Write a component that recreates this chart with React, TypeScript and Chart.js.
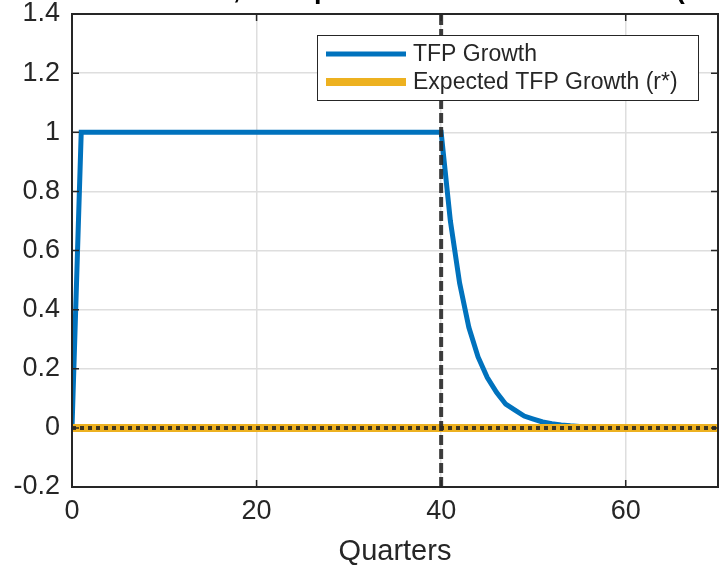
import { useEffect, useRef } from 'react';
import { Chart, registerables } from 'chart.js';

Chart.register(...registerables);

const FONT = '"Liberation Sans", Arial, Helvetica, sans-serif';
const TEXT = '#262626';

const titleText = 'Scenario 1, Unexpected TFP Shock Reversal (r* = 0)';
const xTitle = 'Quarters';
const xTicks = [0, 20, 40, 60];
const xMin = 0;
const xMax = 70;
const yMin = -0.2;
const yMax = 1.4;
const yStep = 0.2;

const quarters = Array.from({ length: 71 }, (_, i) => i);

const tfpGrowth = [
  0,
  1, 1, 1, 1, 1, 1, 1, 1, 1, 1,
  1, 1, 1, 1, 1, 1, 1, 1, 1, 1,
  1, 1, 1, 1, 1, 1, 1, 1, 1, 1,
  1, 1, 1, 1, 1, 1, 1, 1, 1, 1,
  0.7, 0.49, 0.34, 0.24, 0.17, 0.12, 0.08, 0.06, 0.04, 0.03,
  0.02, 0.014, 0.01, 0.007, 0.005, 0.003, 0.002, 0.002, 0.001, 0.001,
  0, 0, 0, 0, 0, 0, 0, 0, 0, 0,
];

const expectedTfp = [
  0,
  0, 0, 0, 0, 0, 0, 0, 0, 0, 0,
  0, 0, 0, 0, 0, 0, 0, 0, 0, 0,
  0, 0, 0, 0, 0, 0, 0, 0, 0, 0,
  0, 0, 0, 0, 0, 0, 0, 0, 0, 0,
  0, 0, 0, 0, 0, 0, 0, 0, 0, 0,
  0, 0, 0, 0, 0, 0, 0, 0, 0, 0,
  0, 0, 0, 0, 0, 0, 0, 0, 0, 0,
];

const shockEndQuarter = [40, 40];
const shockLineY = [yMin, yMax];

const legendLabels = ['TFP Growth', 'Expected TFP Growth (r*)'];
const legendColors = ['#0072BD', '#EDB120'];
const legendWidths = [5, 8];

const framePlugin = {
  id: 'frame',
  afterDatasetsDraw(chart: any) {
    const { ctx, chartArea: a, scales } = chart;
    ctx.save();
    ctx.strokeStyle = TEXT;
    ctx.lineWidth = 2;
    ctx.strokeRect(a.left, a.top, a.right - a.left, a.bottom - a.top);
    ctx.lineWidth = 1.5;
    ctx.beginPath();
    for (const t of xTicks) {
      const x = scales.x.getPixelForValue(t);
      ctx.moveTo(x, a.bottom);
      ctx.lineTo(x, a.bottom - 7);
      ctx.moveTo(x, a.top);
      ctx.lineTo(x, a.top + 7);
    }
    for (const t of scales.y.ticks) {
      const y = scales.y.getPixelForValue(t.value);
      ctx.moveTo(a.left, y);
      ctx.lineTo(a.left + 7, y);
      ctx.moveTo(a.right, y);
      ctx.lineTo(a.right - 7, y);
    }
    ctx.stroke();
    ctx.restore();
  },
};

const legendPlugin = {
  id: 'customLegend',
  afterDraw(chart: any) {
    const { ctx, chartArea: a } = chart;
    const w = 381;
    const h = 65;
    const bx = a.right - 20 - w;
    const by = a.top + 21;
    ctx.save();
    ctx.fillStyle = '#ffffff';
    ctx.fillRect(bx, by, w, h);
    ctx.strokeStyle = TEXT;
    ctx.lineWidth = 1;
    ctx.strokeRect(bx + 0.5, by + 0.5, w, h);
    ctx.font = `23px ${FONT}`;
    ctx.textBaseline = 'middle';
    ctx.textAlign = 'left';
    legendLabels.forEach((label, i) => {
      const y = by + 19 + i * 28;
      ctx.strokeStyle = legendColors[i];
      ctx.lineWidth = legendWidths[i];
      ctx.beginPath();
      ctx.moveTo(bx + 9, y);
      ctx.lineTo(bx + 89, y);
      ctx.stroke();
      ctx.fillStyle = TEXT;
      ctx.fillText(label, bx + 96, y + 1);
    });
    ctx.restore();
  },
};

const titlePlugin = {
  id: 'cutTitle',
  afterDraw(chart: any) {
    const { ctx } = chart;
    ctx.save();
    ctx.font = `bold 27px ${FONT}`;
    ctx.fillStyle = '#000000';
    ctx.textBaseline = 'alphabetic';
    ctx.textAlign = 'left';
    const pre = ctx.measureText('Scenario 1').width;
    ctx.fillText(titleText, 233 - pre, -2);
    ctx.restore();
  },
};

export default function App() {
  const ref = useRef<HTMLCanvasElement | null>(null);

  useEffect(() => {
    if (!ref.current) return;
    const chart = new Chart(ref.current, {
      type: 'line',
      data: {
        datasets: [
          {
            label: 'Shock end',
            data: shockEndQuarter.map((x, i) => ({ x, y: shockLineY[i] })),
            borderColor: 'rgba(40,40,40,0.9)',
            borderWidth: 4,
            borderDash: [10, 4],
            borderCapStyle: 'butt',
            pointRadius: 0,
            order: 0,
          },
          {
            label: 'r* path',
            data: quarters.map((x, i) => ({ x, y: expectedTfp[i] })),
            borderColor: 'rgba(30,30,30,0.85)',
            borderWidth: 4,
            borderDash: [4, 4],
            borderCapStyle: 'butt',
            pointRadius: 0,
            order: 1,
          },
          {
            label: legendLabels[1],
            data: quarters.map((x, i) => ({ x, y: expectedTfp[i] })),
            borderColor: legendColors[1],
            borderWidth: 8,
            pointRadius: 0,
            order: 2,
          },
          {
            label: legendLabels[0],
            data: quarters.map((x, i) => ({ x, y: tfpGrowth[i] })),
            borderColor: legendColors[0],
            borderWidth: 5,
            pointRadius: 0,
            borderJoinStyle: 'miter',
            order: 3,
          },
        ],
      },
      options: {
        animation: false,
        responsive: false,
        layout: { padding: { top: 14, right: 3, left: 0, bottom: 0 } },
        plugins: {
          legend: { display: false },
          tooltip: { enabled: false },
          title: { display: false },
        },
        scales: {
          x: {
            type: 'linear',
            min: xMin,
            max: xMax,
            afterBuildTicks: (scale: any) => {
              scale.ticks = xTicks.map((v) => ({ value: v }));
            },
            afterFit: (scale: any) => {
              scale.height = 79;
              scale.paddingLeft = 0;
              scale.paddingRight = 0;
            },
            grid: { color: '#dedede', lineWidth: 1.5, drawTicks: false },
            border: { display: false },
            ticks: {
              color: TEXT,
              font: { family: FONT, size: 27 },
              padding: 8,
              maxRotation: 0,
            },
            title: {
              display: true,
              text: xTitle,
              color: TEXT,
              font: { family: FONT, size: 29, lineHeight: 1 },
              padding: { top: 0, bottom: 0 },
            },
          },
          y: {
            type: 'linear',
            min: yMin,
            max: yMax,
            afterFit: (scale: any) => {
              scale.width = 72;
              scale.paddingTop = 0;
              scale.paddingBottom = 0;
            },
            grid: { color: '#dedede', lineWidth: 1.5, drawTicks: false },
            border: { display: false },
            ticks: {
              stepSize: yStep,
              color: TEXT,
              font: { family: FONT, size: 27 },
              padding: 12,
              callback: (v: any) => {
                const n = Math.round(Number(v) * 10) / 10;
                return n === 0 ? '0' : n === 1 ? '1' : String(n);
              },
            },
          },
        },
      },
      plugins: [framePlugin, legendPlugin, titlePlugin],
    } as any);
    return () => chart.destroy();
  }, []);

  return (
    <div style={{ position: 'absolute', left: 0, top: 0, width: 721, height: 566, background: '#ffffff' }}>
      <canvas ref={ref} width={721} height={566} style={{ display: 'block' }} />
    </div>
  );
}
